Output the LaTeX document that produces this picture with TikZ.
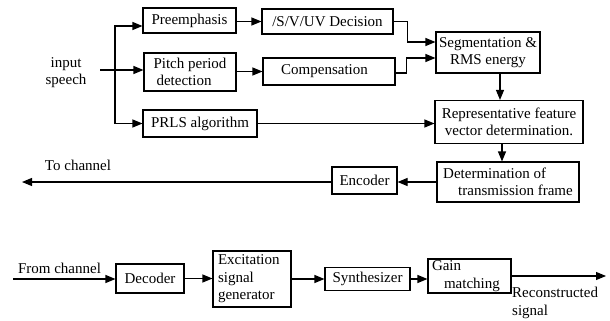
\documentclass[tikz,border=0pt]{standalone}
\usepackage{fontspec}
\setmainfont{Liberation Serif}
\newfontfamily\tms{Liberation Serif}
\usetikzlibrary{arrows.meta,calc}
\begin{document}
\begin{tikzpicture}[x=1pt,y=-1pt,
  every node/.style={font=\tms\fontsize{15}{17.5}\selectfont, inner sep=0pt},
  blk/.style={draw, line width=1.1pt},
  lbl/.style={},
  arr/.style={line width=1.1pt, -{Triangle[length=10pt,width=8pt]}},
  ln/.style={line width=1.1pt}]
\useasboundingbox (0,0) rectangle (610,321);
% top encoder chain
\node[blk, minimum width=93pt, minimum height=25pt] (pre) at (189.5,20.5) {Preemphasis};
\node[blk, minimum width=131pt, minimum height=25pt] (dec) at (327.5,21.5) {/S/V/UV Decision};
\node[blk, minimum width=92pt, minimum height=38pt, align=left] (pitch) at (190,72) {Pitch period\\\hspace*{0.2em}detection};
\node[blk, minimum width=132pt, minimum height=27pt] (comp) at (329,71.5) {Compensation\hspace*{0.6em}};
\node[blk, minimum width=114pt, minimum height=27pt] (prls) at (200,123.5) {PRLS algorithm};
\node[blk, minimum width=104pt, minimum height=41pt, align=center] (seg) at (488,52.5) {Segmentation \&\\RMS energy};
\node[blk, minimum width=148pt, minimum height=43pt, align=center] (rep) at (509,122) {Representative feature\\vector determination.};
\node[blk, minimum width=142pt, minimum height=40pt, align=left] (det) at (508,182) {Determination of\\\hspace*{1em}transmission frame};
\node[blk, minimum width=65pt, minimum height=27pt] (enc) at (364.5,180.5) {Encoder};
% input
\node[lbl, align=center] (inp) at (66,72.5) {input\\speech};
\coordinate (inst) at (100,70);
\coordinate (split) at (115,70);
\draw[arr] (inst) -- (inst -| pitch.west);
\draw[arr] (split) |- ([yshift=-5.5pt]pre.west);
\draw[arr] (split) |- (prls.west);
\draw[arr] (pre.east |- dec.west) -- (dec.west);
\draw[arr] (pitch.east |- comp.west) -- (comp.west);
\draw[arr] (dec.east) -- ++(14,0) |- ([yshift=10.5pt]seg.west);
\draw[arr] ([yshift=-1.5pt]comp.east) -- ++(11,0) |- ([yshift=-5.5pt]seg.west);
\draw[arr] (prls.east) -- (prls.east -| rep.west);
\draw[arr] ([xshift=12pt]seg.south) -- ([xshift=12pt]seg.south |- rep.north);
\draw[arr] ([xshift=-7pt]rep.south) -- ([xshift=-7pt]rep.south |- det.north);
\draw[arr] (det.west) -- (det.west -| enc.east);
\coordinate (tochan) at (22,182);
\draw[arr] (det.west -| enc.west) -- (tochan);
\node[lbl] (tolbl) at (78,165) {To channel};
% decoder chain
\node[blk, minimum width=68pt, minimum height=29pt] (decd) at (150,278.5) {Decoder};
\node[blk, minimum width=78pt, minimum height=56pt, align=left, text width=68pt] (exc) at (252,279) {Excitation\\signal\\generator};
\node[blk, minimum width=85pt, minimum height=23pt] (syn) at (367.5,279) {Synthesizer};
\node[blk, minimum width=83pt, minimum height=34pt, align=left, text width=75pt] (gain) at (469.5,276) {Gain\\\hspace*{0.8em}matching};
\coordinate (fromch) at (13,279);
\draw[arr] (fromch) -- (fromch -| decd.west);
\node[lbl] (fromlbl) at (59.5,268) {From channel};
\draw[arr] (decd.east) -- (decd.east -| exc.west);
\draw[arr] (exc.east) -- (exc.east -| syn.west);
\draw[arr] (syn.east) -- (syn.east -| gain.west);
\coordinate (outp) at (606,276);
\draw[arr] (gain.east) -- (outp);
\node[lbl, anchor=west, align=left] (reclbl) at (512,303) {Reconstructed\\signal};
\end{tikzpicture}
\end{document}
